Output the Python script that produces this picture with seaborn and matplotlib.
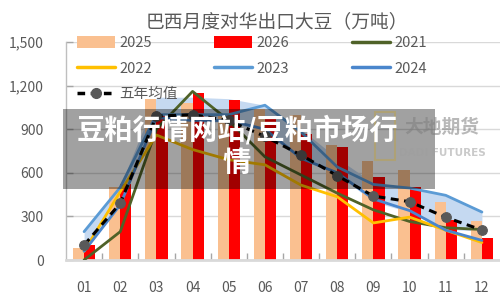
import matplotlib
matplotlib.use('Agg')
import matplotlib.pyplot as plt
import seaborn as sns
import pandas as pd
import numpy as np
from matplotlib.patches import Patch, Rectangle
from matplotlib.lines import Line2D

# ---------------- data ----------------
months = ['01', '02', '03', '04', '05', '06', '07', '08', '09', '10', '11', '12']
y2025 = [80, 500, 1110, 1080, 1000, 1040, 1000, 790, 680, 620, 400, 265]
y2026 = [100, 520, 1000, 1150, 1100, 980, 870, 780, 570, 500, 275, 150]
y2021 = [0, 195, 900, 1160, 960, 710, 585, 460, 345, 265, 222, 210]
y2022 = [60, 470, 860, 760, 690, 655, 515, 435, 255, 295, 205, 120]
y2023 = [195, 500, 1000, 1000, 1000, 1065, 880, 640, 520, 495, 445, 330]
y2024 = [60, 380, 980, 960, 960, 900, 700, 600, 420, 340, 205, 135]
avg5 = [103, 390, 990, 1000, 960, 850, 722, 580, 440, 401, 294, 206]
band_upper = [200, 510, 1120, 1120, 1110, 1065, 900, 700, 530, 500, 450, 330]
band_lower = [60, 380, 960, 950, 950, 880, 690, 590, 400, 330, 210, 200]
yticks = [0, 300, 600, 900, 1200, 1500]
ytick_labels = ['0', '300', '600', '900', '1,200', '1,500']
title = '巴西月度对华出口大豆（万吨）'

# ---------------- style ----------------
sns.set_theme(style='white')
plt.rcParams['font.family'] = ['Noto Sans CJK SC', 'DejaVu Sans']
GREY = '#595959'
colors = {'2025': '#FAC090', '2026': '#FF0000', '2021': '#4F6228',
          '2022': '#FFC000', '2023': '#5B9BD5', '2024': '#4A86CC'}

fig = plt.figure(figsize=(5, 3), dpi=100)
ax = fig.add_axes([66 / 500, 40 / 300, 434 / 500, 218 / 300])

pos = np.arange(len(months))

# band
ax.fill_between(pos, band_lower, band_upper, color='#C5D9F1', lw=0, zorder=1)

# bars
bars = pd.DataFrame({'month': months * 2,
                     'year': ['2025'] * 12 + ['2026'] * 12,
                     'value': y2025 + y2026})
sns.barplot(data=bars, x='month', y='value', hue='year',
            palette={'2025': colors['2025'], '2026': colors['2026']},
            width=0.62, gap=0, saturation=1, linewidth=0,
            legend=False, ax=ax, zorder=2)

# lines
lines = pd.DataFrame({'pos': np.tile(pos, 4),
                      'year': ['2021'] * 12 + ['2022'] * 12 + ['2023'] * 12 + ['2024'] * 12,
                      'value': y2021 + y2022 + y2023 + y2024})
sns.lineplot(data=lines, x='pos', y='value', hue='year',
             palette={k: colors[k] for k in ['2021', '2022', '2023', '2024']},
             lw=2.0, legend=False, ax=ax, zorder=3)
sns.lineplot(x=pos, y=avg5, color='black', lw=2.2, ax=ax, zorder=4,
             linestyle=(0, (2.6, 1.8)), marker='o', markersize=7,
             markerfacecolor='#595959', markeredgecolor='#595959')

# axes
ax.set_xlim(-0.5, 11.5)
ax.set_ylim(0, 1500)
ax.set_xticks(pos)
ax.set_xticklabels(months)
ax.set_yticks(yticks)
ax.set_yticklabels(ytick_labels)
ax.set_xlabel('')
ax.set_ylabel('')
ax.set_xticks(np.arange(0.5, 11, 1), minor=True)
ax.tick_params(axis='x', which='major', length=0, pad=15, labelsize=10, labelcolor=GREY)
ax.tick_params(axis='x', which='minor', length=5, direction='in', color='#A6A6A6', width=1, bottom=True)
ax.tick_params(axis='y', which='major', length=5, direction='in', color='#A6A6A6', width=1,
               pad=16, labelsize=10, labelcolor=GREY, left=True)
ax.grid(axis='y', color='#D9D9D9', lw=1)
ax.set_axisbelow(True)
for s in ['top', 'right']:
    ax.spines[s].set_visible(False)
ax.spines['left'].set_color('#BFBFBF')
ax.spines['left'].set_linewidth(1)
ax.spines['bottom'].set_color('#D9D9D9')
ax.spines['bottom'].set_linewidth(2)

# title
fig.text(277 / 500, 1 - 22 / 300, title, ha='center', va='center', fontsize=13.5, color=GREY)

# legend (three columns)
def patch(c):
    return Patch(facecolor=c, edgecolor='none')

def line(c):
    return Line2D([0], [0], color=c, lw=2.5)

avg_handle = Line2D([0], [0], color='black', lw=2.5, linestyle=(0, (2.2, 1.6)),
                    marker='o', markersize=7, markerfacecolor=GREY, markeredgecolor=GREY)
cols = [
    (77, [patch(colors['2025']), line(colors['2022']), avg_handle], ['2025', '2022', '五年均值']),
    (214, [patch(colors['2026']), line(colors['2023'])], ['2026', '2023']),
    (352, [line(colors['2021']), line(colors['2024'])], ['2021', '2024']),
]
for x0, hs, ls in cols:
    fig.legend(hs, ls, loc='upper left', bbox_to_anchor=(x0 / 500, 1 - 36 / 300),
               frameon=False, fontsize=10.5, labelcolor=GREY, handlelength=2.6,
               handleheight=0.8, handletextpad=0.3, labelspacing=0.8,
               borderpad=0, borderaxespad=0)

# watermark overlay
fig.patches.append(Rectangle((63 / 500, 1 - 189 / 300), 372 / 500, 80 / 300,
                             transform=fig.transFigure, facecolor='black', alpha=0.37,
                             edgecolor='none', zorder=10))
fig.text(237 / 500, 1 - 130 / 300, '豆粕行情网站/豆粕市场行', ha='center', va='center',
         fontsize=20.3, fontweight='bold', color='white', zorder=11)
fig.text(237 / 500, 1 - 163 / 300, '情', ha='center', va='center',
         fontsize=20.3, fontweight='bold', color='white', zorder=11)
fig.text(442 / 500, 1 - 127 / 300, '大地期货', ha='center', va='center',
         fontsize=13.5, fontweight='bold', color='#7F7F7F', alpha=0.55, zorder=11)
fig.text(442 / 500, 1 - 153 / 300, 'DADI FUTURES', ha='center', va='center',
         fontsize=7.5, fontweight='bold', color='#9F9F9F', alpha=0.55, zorder=11,
         family='DejaVu Sans')
fig.patches.append(Rectangle((375 / 500, 1 - 160 / 300), 20 / 500, 48 / 300,
                             transform=fig.transFigure, facecolor='none', alpha=0.35,
                             edgecolor='#C9A227', lw=1.5, zorder=11))

fig.savefig('out.png', dpi=100)
